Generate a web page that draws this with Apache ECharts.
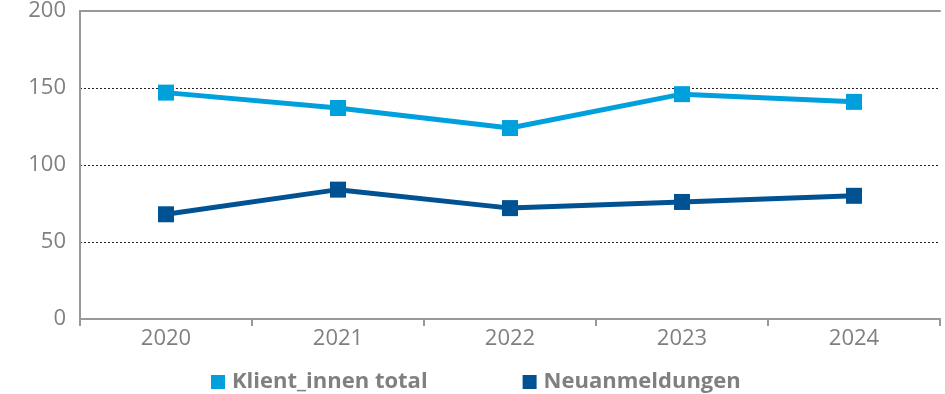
<!DOCTYPE html>
<html><head><meta charset="utf-8">
<script src="https://cdn.jsdelivr.net/npm/echarts@6/dist/echarts.min.js"></script>
<style>html,body{margin:0;padding:0;background:#fff}#c{width:945px;height:394px}</style>
</head><body><div id="c"></div>
<script>
const categories = ['2020','2021','2022','2023','2024'];
const klientTotal = [147, 137, 124, 146, 141];
const neuanmeldungen = [68, 84, 72, 76, 80];
const yTicks = [0, 50, 100, 150, 200];

const FONT = '"Open Sans", "Noto Sans", sans-serif';
const chart = echarts.init(document.getElementById('c'), null, {renderer:'canvas'});
chart.setOption({
  animation: false,
  textStyle: {fontFamily: FONT},
  grid: {left: 80, right: 5, top: 10, bottom: 75, containLabel: false},
  legend: {
    left: 206, top: 366, icon: 'rect', itemWidth: 14, itemHeight: 14, itemGap: 95,
    textStyle: {fontFamily: FONT, fontSize: 22, fontWeight: 'bold', color: '#808080', padding: [0,0,0,2]},
    data: ['Klient_innen total', 'Neuanmeldungen']
  },
  xAxis: [{
    type: 'category', data: categories, boundaryGap: true,
    axisLine: {lineStyle: {color: '#999', width: 2}},
    axisTick: {show: true, length: 7, lineStyle: {color: '#999', width: 2}},
    axisLabel: {fontFamily: FONT, fontSize: 22, color: '#808080', margin: 9}
  }, {
    type: 'category', data: categories, position: 'top',
    axisLine: {show: true, lineStyle: {color: '#999', width: 2}},
    axisTick: {show: false}, axisLabel: {show: false}
  }],
  yAxis: {
    type: 'value', min: yTicks[0], max: yTicks[yTicks.length-1], interval: 50,
    axisLine: {show: true, lineStyle: {color: '#999', width: 2}},
    axisTick: {show: false},
    axisLabel: {fontFamily: FONT, fontSize: 22, color: '#808080', margin: 14},
    splitLine: {show: true, lineStyle: {type: [2,2], color: '#222', width: 1}}
  },
  series: [{
    name: 'Klient_innen total', type: 'line', data: klientTotal,
    symbol: 'rect', symbolSize: 16, color: '#00a0dc',
    lineStyle: {width: 5, color: '#00a0dc'}, itemStyle: {color: '#00a0dc'}
  }, {
    name: 'Neuanmeldungen', type: 'line', data: neuanmeldungen,
    symbol: 'rect', symbolSize: 16, color: '#005293',
    lineStyle: {width: 5, color: '#005293'}, itemStyle: {color: '#005293'}
  }]
});
</script></body></html>
